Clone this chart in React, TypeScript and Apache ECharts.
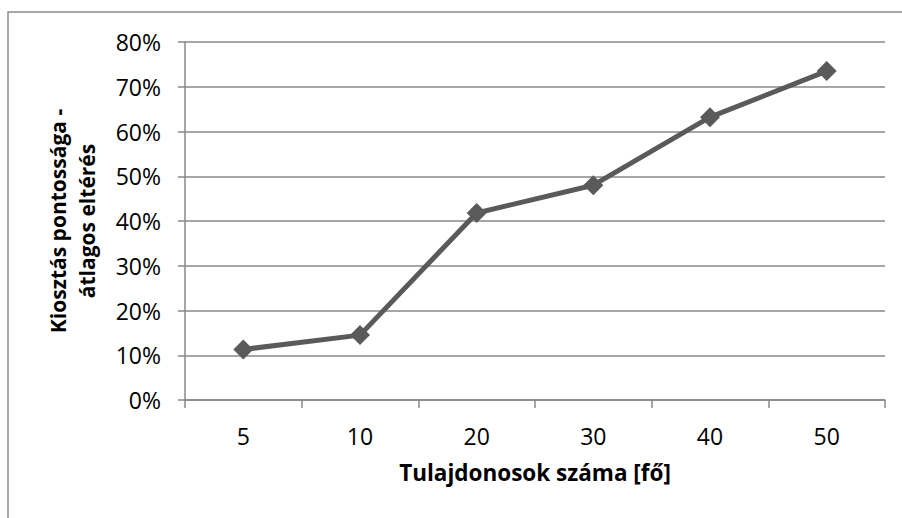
import React, { useEffect, useRef } from "react";
import * as echarts from "echarts";

const categories = ["5", "10", "20", "30", "40", "50"];
const values = [0.113, 0.145, 0.418, 0.48, 0.632, 0.735];
const yTicks = { min: 0, max: 0.8, interval: 0.1 };
const xTitle = "Tulajdonosok száma [fő]";
const yTitle = "Kiosztás pontossága -\nátlagos eltérés";

const FONT = "'Open Sans', 'Noto Sans', sans-serif";
const GRID_COLOR = "#888888";
const LINE_COLOR = "#5a5a5a";

export default function App() {
  const ref = useRef<HTMLDivElement>(null);
  useEffect(() => {
    if (!ref.current) return;
    const chart = echarts.init(ref.current, undefined, { renderer: "svg" });
    chart.setOption({
      animation: false,
      backgroundColor: "#ffffff",
      textStyle: { fontFamily: FONT },
      grid: { left: 185, right: 17, top: 42, bottom: 118, containLabel: false },
      graphic: [
        {
          type: "rect",
          shape: { x: 8, y: 12, width: 1000, height: 1000 },
          style: { fill: "none", stroke: "#8c8c8c", lineWidth: 1.5 },
          silent: true,
        },
        {
          type: "text",
          x: 72,
          y: 221,
          rotation: Math.PI / 2,
          style: {
            text: yTitle,
            fontFamily: FONT,
            fontSize: 21,
            fontWeight: "bold",
            fill: "#000",
            align: "center",
            verticalAlign: "middle",
            lineHeight: 29,
          },
        },
      ],
      xAxis: {
        type: "category",
        data: categories,
        boundaryGap: true,
        name: xTitle,
        nameLocation: "middle",
        nameGap: 61,
        nameTextStyle: { fontFamily: FONT, fontSize: 22.5, fontWeight: "bold", color: "#000" },
        axisLine: { show: true, lineStyle: { color: GRID_COLOR, width: 1.5 } },
        axisTick: { show: true, length: 8, lineStyle: { color: GRID_COLOR, width: 1.5 } },
        axisLabel: { fontFamily: FONT, fontSize: 23, color: "#000", margin: 24 },
        splitLine: { show: false },
      },
      yAxis: {
        type: "value",
        min: yTicks.min,
        max: yTicks.max,
        interval: yTicks.interval,
        axisLine: { show: true, lineStyle: { color: GRID_COLOR, width: 1.5 } },
        axisTick: { show: true, length: 7, lineStyle: { color: GRID_COLOR, width: 1.5 } },
        axisLabel: {
          fontFamily: FONT,
          fontSize: 23,
          color: "#000",
          margin: 24,
          formatter: (v: number) => Math.round(v * 100) + "%",
        },
        splitLine: { show: true, lineStyle: { color: GRID_COLOR, width: 1.5 } },
      },
      series: [
        {
          type: "line",
          data: values,
          symbol: "diamond",
          symbolSize: 20,
          lineStyle: { color: LINE_COLOR, width: 5 },
          itemStyle: { color: LINE_COLOR },
        },
      ],
    });
    return () => chart.dispose();
  }, []);
  return (
    <div
      ref={ref}
      style={{ position: "fixed", left: 0, top: 0, width: 902, height: 518 }}
    />
  );
}
